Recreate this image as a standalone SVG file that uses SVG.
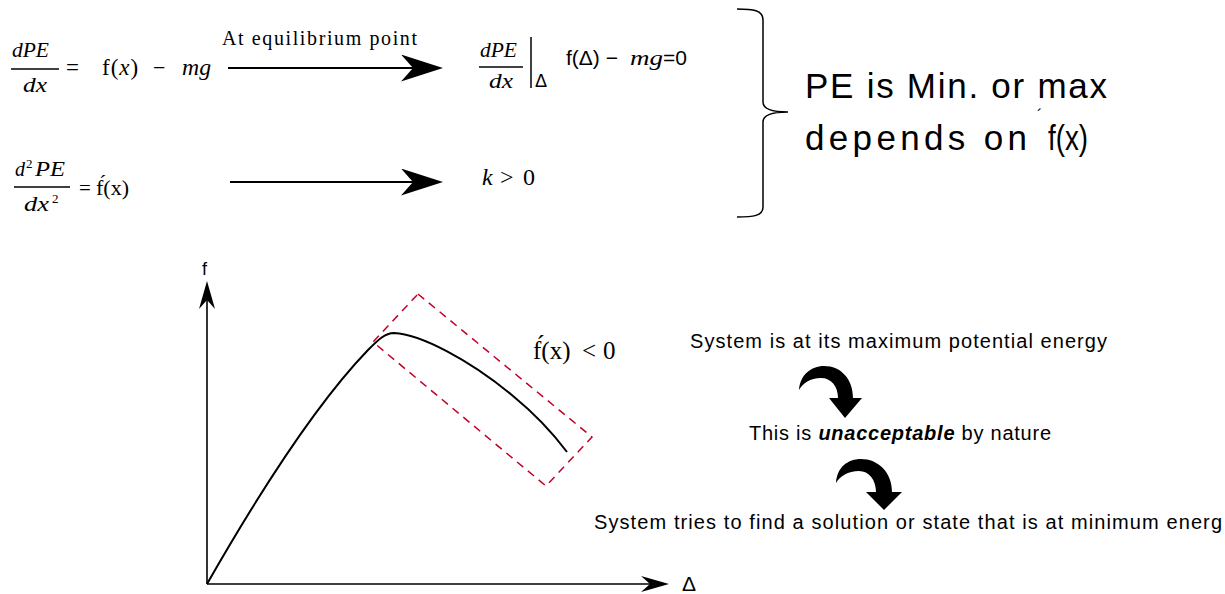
<svg xmlns="http://www.w3.org/2000/svg" width="1225" height="594" viewBox="0 0 1225 594">
<style>
.m{font-family:"Liberation Serif",serif;fill:#000}
.mi{font-family:"Liberation Serif",serif;font-style:italic;fill:#000}
.s{font-family:"Liberation Sans",sans-serif;fill:#000}
.bar{stroke:#000;stroke-width:1.5;fill:none}
.conn{stroke:#000;stroke-width:2;fill:none}
.axis{stroke:#000;stroke-width:1.6;fill:none}
</style>
<defs>
<marker id="stealthL" viewBox="0 0 42 27" refX="12" refY="13.5" markerWidth="42" markerHeight="27" markerUnits="userSpaceOnUse" orient="auto">
<path d="M0,0 L42,13.5 L0,27 L12,13.5 Z" fill="#000"/>
</marker>
<marker id="stealthS" viewBox="0 0 28 16" refX="9" refY="8" markerWidth="28" markerHeight="16" markerUnits="userSpaceOnUse" orient="auto">
<path d="M0,0 L28,8 L0,16 L9,8 Z" fill="#000"/>
</marker>
</defs>
<rect width="1225" height="594" fill="#fff"/>

<g id="eq1-left">
<text class="mi" x="12" y="57" font-size="20" textLength="37" lengthAdjust="spacingAndGlyphs">dPE</text>
<line class="bar" x1="11" y1="69" x2="59" y2="69"/>
<text class="mi" x="23" y="92" font-size="21" textLength="24" lengthAdjust="spacingAndGlyphs">dx</text>
<text class="m" x="66" y="75" font-size="23">=</text>
<text class="m" x="102" y="75" font-size="23" letter-spacing="1">f(<tspan class="mi">x</tspan>)</text>
<text class="m" x="153" y="75" font-size="22">−</text>
<text class="mi" x="182" y="75" font-size="23" textLength="29" lengthAdjust="spacingAndGlyphs">mg</text>
</g>

<g id="eq1-right">
<text class="mi" x="480" y="57" font-size="20" textLength="37" lengthAdjust="spacingAndGlyphs">dPE</text>
<line class="bar" x1="479" y1="67" x2="523" y2="67"/>
<text class="mi" x="489" y="88" font-size="21" textLength="24" lengthAdjust="spacingAndGlyphs">dx</text>
<line class="bar" x1="531" y1="37" x2="531" y2="88"/>
<text class="s" x="535" y="87" font-size="18">Δ</text>
<text class="s" x="566" y="65" font-size="21">f(Δ) −</text>
<text class="mi" x="630" y="65" font-size="22" textLength="33" lengthAdjust="spacingAndGlyphs">mg</text>
<text class="s" x="663" y="65" font-size="21">=0</text>
</g>

<g id="eq2-left">
<text class="mi" x="15" y="176" font-size="20">d</text>
<text class="m" x="26" y="168" font-size="13">2</text>
<text class="mi" x="35" y="176" font-size="20" textLength="30" lengthAdjust="spacingAndGlyphs">PE</text>
<line class="bar" x1="14" y1="187" x2="70" y2="187"/>
<text class="mi" x="24" y="211" font-size="21" textLength="25" lengthAdjust="spacingAndGlyphs">dx</text>
<text class="m" x="52" y="203" font-size="13">2</text>
<text class="m" x="79" y="195" font-size="21">=</text>
<text class="m" x="96" y="195" font-size="22">f&#x301;(x)</text>
</g>

<g id="eq2-right">
<text class="mi" x="482" y="185" font-size="24">k</text>
<text class="m" x="500" y="185" font-size="24">&gt;</text>
<text class="m" x="523" y="185" font-size="24">0</text>
</g>

<g id="brace">
<path d="M737,9 C753,9 763,10 763,20 L763,102 Q763,112 788,112 M788,112 Q763,112 763,122 L763,207 C763,216 753,217 737,217" stroke="#000" stroke-width="1.5" fill="none"/>
</g>

<g id="conclusion">
<text class="s" x="805" y="98" font-size="35" textLength="302" lengthAdjust="spacing">PE is Min. or max</text>
<text class="s" x="805" y="150" font-size="35" textLength="222" lengthAdjust="spacing">depends on</text>
<text class="s" x="1037" y="121" font-size="16">´</text>
<text class="s" x="1048" y="150" font-size="35" textLength="40" lengthAdjust="spacingAndGlyphs">f(x)</text>
</g>

<g id="graph">
<line class="axis" x1="207" y1="584" x2="207" y2="300" marker-end="url(#stealthS)"/>
<line class="axis" x1="207" y1="584" x2="650" y2="584" marker-end="url(#stealthS)"/>
<text class="s" x="202" y="275" font-size="18">f</text>
<text class="s" x="682" y="591" font-size="21">Δ</text>
<path d="M207,584 C255,500 315,405 368,350 C378,340 385,333 394,333 C420,334 470,360 513,396 C535,414 552,432 567,452" stroke="#000" stroke-width="2" fill="none"/>
<polygon points="418,294 592,437 546,486 373,342" fill="none" stroke="#C00028" stroke-width="1.5" stroke-dasharray="8,6"/>
<text class="m" x="533" y="359" font-size="25">f&#x301;(x)</text>
<text class="m" x="582" y="359" font-size="25">&lt;</text>
<text class="m" x="603" y="359" font-size="25">0</text>
</g>

<g id="statements">
<text class="s" x="690" y="348" font-size="20" textLength="417" lengthAdjust="spacing">System is at its maximum potential energy</text>
<text class="s" x="749" y="440" font-size="20" textLength="302" lengthAdjust="spacing">This is <tspan font-weight="bold" font-style="italic">unacceptable</tspan> by nature</text>
<text class="s" x="594" y="529" font-size="20" textLength="628" lengthAdjust="spacing">System tries to find a solution or state that is at minimum energ</text>
</g>

<g id="connectors">
<line class="conn" x1="228" y1="68" x2="413" y2="68" marker-end="url(#stealthL)"/>
<text class="m" x="222" y="45" font-size="20" textLength="195" lengthAdjust="spacing">At equilibrium point</text>
<line class="conn" x1="230" y1="182" x2="413" y2="182" marker-end="url(#stealthL)"/>
<path d="M799,390 C800,375 811,366 824,366 C841,366 853,379 853,398 L862,398 L845,418 L829,398 L838,398 C838,386 831,378 821,378 C810,378 803,383 799,390 Z" fill="#000"/>
<path d="M836,483 C837,467 848,459 861,459 C878,459 892,472 892,492 L902,492 L884,510 L866,492 L876,492 C876,480 869,471 859,471 C848,471 840,476 836,483 Z" fill="#000"/>
</g>
</svg>
